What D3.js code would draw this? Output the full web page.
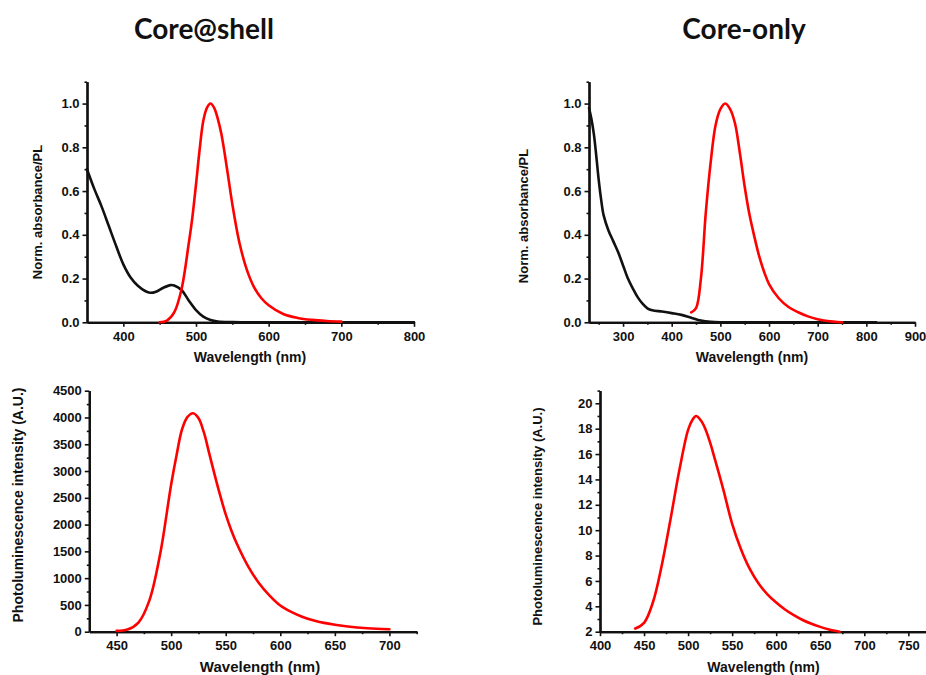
<!DOCTYPE html>
<html>
<head>
<meta charset="utf-8">
<script src="https://d3js.org/d3.v7.min.js"></script>
<style>
  body { margin: 0; background: #fff; }
  svg text { font-family: "Liberation Sans", Arial, sans-serif; font-weight: bold; fill: #111; }
  .title { font-family: Lato, "Open Sans", sans-serif; }
</style>
</head>
<body>
<script>
// Core@shell: absorbance (normalized)
var shellAbsWl = [350, 360, 370, 380, 390, 400, 410, 420, 430, 437, 445, 455, 465, 470, 480, 490, 500, 510, 520, 530, 550, 600, 700, 800];
var shellAbs   = [0.70, 0.61, 0.53, 0.44, 0.35, 0.265, 0.205, 0.167, 0.143, 0.135, 0.14, 0.158, 0.17, 0.168, 0.148, 0.10, 0.056, 0.026, 0.011, 0.004, 0.001, 0, 0, 0];
// Core@shell: PL (normalized)
var shellPlNormWl = [450, 460, 470, 480, 490, 495, 500, 505, 510, 515, 520, 525, 530, 535, 540, 545, 550, 560, 570, 580, 590, 600, 620, 640, 660, 680, 700];
var shellPlNorm   = [0.0, 0.008, 0.045, 0.15, 0.36, 0.48, 0.63, 0.79, 0.92, 0.98, 1.0, 0.98, 0.93, 0.86, 0.76, 0.65, 0.54, 0.36, 0.24, 0.16, 0.11, 0.078, 0.038, 0.02, 0.011, 0.006, 0.003];
// Core-only: absorbance (normalized)
var coreAbsWl = [230, 235, 240, 245, 250, 255, 260, 270, 280, 290, 300, 310, 320, 330, 340, 350, 360, 380, 400, 420, 440, 460, 480, 500, 600, 700, 820];
var coreAbs   = [0.98, 0.93, 0.86, 0.76, 0.65, 0.56, 0.49, 0.42, 0.37, 0.32, 0.26, 0.20, 0.155, 0.115, 0.085, 0.064, 0.055, 0.049, 0.042, 0.034, 0.021, 0.008, 0.002, 0, 0, 0, 0];
// Core-only: PL (normalized)
var corePlNormWl = [440, 450, 460, 470, 480, 490, 500, 510, 520, 530, 540, 550, 560, 570, 580, 590, 600, 620, 640, 660, 680, 700, 720, 750];
var corePlNorm   = [0.045, 0.065, 0.2, 0.5, 0.73, 0.9, 0.975, 1.0, 0.975, 0.91, 0.775, 0.62, 0.49, 0.39, 0.30, 0.23, 0.175, 0.11, 0.07, 0.046, 0.027, 0.014, 0.006, 0];
// Core@shell: PL intensity (A.U.)
var shellPlWl = [450, 460, 470, 480, 490, 500, 505, 510, 515, 520, 525, 530, 535, 540, 545, 550, 555, 560, 570, 580, 590, 600, 610, 620, 630, 640, 650, 660, 680, 700];
var shellPl   = [15, 40, 170, 580, 1460, 2750, 3300, 3780, 4010, 4080, 3990, 3720, 3320, 2920, 2540, 2190, 1900, 1650, 1240, 920, 680, 490, 370, 280, 215, 165, 130, 103, 65, 45];
// Core-only: PL intensity (A.U.)
var corePlWl = [440, 450, 460, 470, 480, 490, 500, 505, 509, 515, 520, 525, 530, 540, 550, 560, 570, 580, 590, 600, 610, 620, 630, 640, 650, 660, 672];
var corePl   = [2.25, 2.7, 4.3, 7.2, 10.85, 14.7, 17.9, 18.7, 19.0, 18.6, 17.9, 16.9, 15.7, 13.2, 10.5, 8.5, 6.95, 5.8, 4.95, 4.3, 3.75, 3.3, 2.92, 2.62, 2.38, 2.18, 2.0];

var titles = ["Core@shell", "Core-only"];

var svg = d3.select("body").append("svg").attr("width", 926).attr("height", 675);

svg.selectAll("text.title").data(titles).enter().append("text")
  .attr("class", "title")
  .attr("x", function(d, i) { return i == 0 ? 204 : 744; })
  .attr("y", 39)
  .attr("text-anchor", "middle")
  .style("font-size", "28px")
  .text(function(d) { return d; });

function panel(o) {
  var x = d3.scaleLinear().domain(o.xd).range(o.xr);
  var y = d3.scaleLinear().domain(o.yd).range(o.yr);
  var g = svg.append("g");

  // minor ticks
  g.append("g").attr("transform", "translate(0," + o.yr[0] + ")")
    .call(d3.axisBottom(x).tickValues(o.xMinor).tickSize(2.5).tickSizeOuter(0).tickFormat(""));
  g.append("g").attr("transform", "translate(" + o.xr[0] + ",0)")
    .call(d3.axisLeft(y).tickValues(o.yMinor).tickSize(2.5).tickSizeOuter(0).tickFormat(""));

  g.append("g").attr("transform", "translate(0," + o.yr[0] + ")")
    .call(d3.axisBottom(x).tickValues(o.xMajor).tickSize(4.5).tickPadding(5).tickSizeOuter(0));
  g.append("g").attr("transform", "translate(" + o.xr[0] + ",0)")
    .call(d3.axisLeft(y).tickValues(o.yMajor).tickSize(4.5).tickPadding(3).tickSizeOuter(0).tickFormat(o.yFmt));

  g.selectAll(".domain").attr("stroke", "#111").attr("stroke-width", 2.2);
  g.selectAll(".tick line").attr("stroke", "#111").attr("stroke-width", 1.6);
  g.selectAll(".tick text").style("font-size", o.tickFont + "px").style("font-family", "Liberation Sans, Arial, sans-serif").style("font-weight", "bold").attr("fill", "#111");

  var line = d3.line().x(function(d) { return x(d[0]); }).y(function(d) { return y(d[1]); })
    .curve(d3.curveCatmullRom.alpha(0.5));

  o.series.forEach(function(s) {
    g.append("path").datum(d3.zip(s.wl, s.v))
      .attr("fill", "none").attr("stroke", s.color).attr("stroke-width", 2.6)
      .attr("stroke-linejoin", "round").attr("stroke-linecap", "round")
      .attr("d", line);
  });

  g.append("text")
    .attr("transform", "translate(" + o.yTitle[0] + "," + o.yTitle[1] + ") rotate(-90)")
    .attr("text-anchor", "middle").attr("dy", "0.35em")
    .style("font-size", o.yTitleFont + "px")
    .text(o.yLabel);
  g.append("text")
    .attr("x", o.xTitle[0]).attr("y", o.xTitle[1])
    .attr("text-anchor", "middle")
    .style("font-size", o.xTitleFont + "px")
    .text("Wavelength (nm)");
}

var fmt1 = d3.format(".1f");

panel({
  xd: [350, 800], xr: [87, 414], yd: [0, 1.1], yr: [322.3, 81.7],
  xMajor: [400, 500, 600, 700, 800], xMinor: [450, 550, 650, 750],
  yMajor: [0, 0.2, 0.4, 0.6, 0.8, 1.0], yMinor: [0.1, 0.3, 0.5, 0.7, 0.9, 1.1],
  yFmt: fmt1, tickFont: 13,
  series: [
    { wl: shellAbsWl, v: shellAbs, color: "#111" },
    { wl: shellPlNormWl, v: shellPlNorm, color: "#ff0000" }
  ],
  yLabel: "Norm. absorbance/PL", yTitle: [37.5, 212], yTitleFont: 13,
  xTitle: [250, 362], xTitleFont: 14
});

panel({
  xd: [230, 900], xr: [589, 915], yd: [0, 1.1], yr: [322.3, 81.7],
  xMajor: [300, 400, 500, 600, 700, 800, 900], xMinor: [250, 350, 450, 550, 650, 750, 850],
  yMajor: [0, 0.2, 0.4, 0.6, 0.8, 1.0], yMinor: [0.1, 0.3, 0.5, 0.7, 0.9, 1.1],
  yFmt: fmt1, tickFont: 13,
  series: [
    { wl: coreAbsWl, v: coreAbs, color: "#111" },
    { wl: corePlNormWl, v: corePlNorm, color: "#ff0000" }
  ],
  yLabel: "Norm. absorbance/PL", yTitle: [523, 216], yTitleFont: 13,
  xTitle: [752, 362], xTitleFont: 14
});

panel({
  xd: [425, 725], xr: [89.3, 416.7], yd: [0, 4500], yr: [631.7, 390.7],
  xMajor: [450, 500, 550, 600, 650, 700], xMinor: [475, 525, 575, 625, 675, 725],
  yMajor: d3.range(0, 4501, 500), yMinor: d3.range(250, 4500, 500),
  yFmt: d3.format("d"), tickFont: 13,
  series: [
    { wl: shellPlWl, v: shellPl, color: "#ff0000" }
  ],
  yLabel: "Photoluminescence intensity (A.U.)", yTitle: [18, 505], yTitleFont: 14,
  xTitle: [260, 672], xTitleFont: 15
});

panel({
  xd: [400, 800], xr: [600, 952.4], yd: [2, 21], yr: [631.7, 390.6],
  xMajor: [400, 450, 500, 550, 600, 650, 700, 750], xMinor: [425, 475, 525, 575, 625, 675, 725, 775],
  yMajor: d3.range(2, 21, 2), yMinor: d3.range(3, 22, 2),
  yFmt: d3.format("d"), tickFont: 13,
  series: [
    { wl: corePlWl, v: corePl, color: "#ff0000" }
  ],
  yLabel: "Photoluminescence intensity (A.U.)", yTitle: [537.5, 516.5], yTitleFont: 13,
  xTitle: [763.5, 672], xTitleFont: 14
});
</script>
</body>
</html>
